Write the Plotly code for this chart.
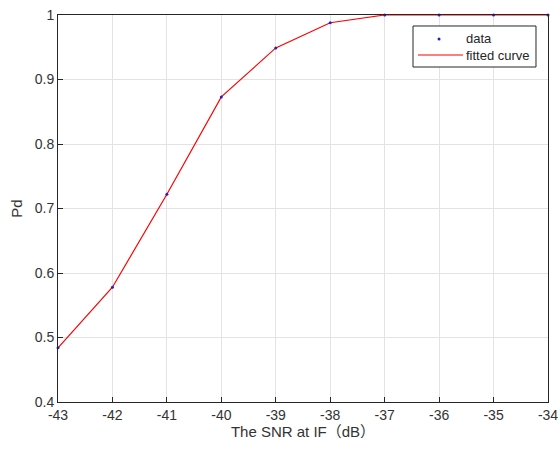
import plotly.graph_objects as go

snr = [-43, -42, -41, -40, -39, -38, -37, -36, -35, -34]
pd_data = [0.484, 0.578, 0.722, 0.873, 0.949, 0.988, 1.0, 1.0, 1.0, 1.0]
x_ticks = [-43, -42, -41, -40, -39, -38, -37, -36, -35, -34]
x_tick_text = ["-43", "-42", "-41", "-40", "-39", "-38", "-37", "-36", "-35", "-34"]
y_ticks = [0.4, 0.5, 0.6, 0.7, 0.8, 0.9, 1.0]
y_tick_text = ["0.4", "0.5", "0.6", "0.7", "0.8", "0.9", "1"]
legend_labels = ["data", "fitted curve"]

FONT = "Liberation Sans, Arial, Noto Sans CJK SC"
DOT_COLOR = "#1f1fcc"
LINE_COLOR = "#ff0000"

fig = go.Figure()
fig.add_trace(go.Scatter(x=snr, y=pd_data, mode="lines", name=legend_labels[1],
                         line=dict(color=LINE_COLOR, width=1.2), cliponaxis=False))
fig.add_trace(go.Scatter(x=snr, y=pd_data, mode="markers", name=legend_labels[0],
                         marker=dict(color=DOT_COLOR, size=3), cliponaxis=False))

axis_common = dict(showline=True, linecolor="#262626", linewidth=1, mirror=True,
                   ticks="inside", ticklen=5, tickcolor="#262626", automargin=False,
                   showgrid=True, gridcolor="#e3e3e3", gridwidth=1, zeroline=False,
                   tickfont=dict(family=FONT, size=14, color="#333333"))

# manual legend (MATLAB style box)
box = dict(x0=0.7245, x1=0.9755, y0=0.8656, y1=0.9716)
row_y = [0.938, 0.8966]
shapes = [
    dict(type="rect", xref="paper", yref="paper", **box,
         line=dict(color="#262626", width=1), fillcolor="white", layer="above"),
    dict(type="line", xref="paper", yref="paper", x0=0.7347, x1=0.8265,
         y0=row_y[1], y1=row_y[1], line=dict(color=LINE_COLOR, width=1.2), layer="above"),
    dict(type="circle", xref="paper", yref="paper", xsizemode="pixel", ysizemode="pixel",
         xanchor=0.7776, yanchor=row_y[0], x0=-1.5, x1=1.5, y0=-1.5, y1=1.5,
         fillcolor=DOT_COLOR, line=dict(width=0), layer="above"),
]
annotations = [
    dict(xref="paper", yref="paper", x=0.829, y=yy, xanchor="left", yanchor="middle",
         text=t, showarrow=False, font=dict(family=FONT, size=13, color="#262626"))
    for t, yy in zip(legend_labels, row_y)
]

fig.update_layout(
    width=559, height=450,
    margin=dict(l=58, r=11, t=15, b=48),
    paper_bgcolor="white", plot_bgcolor="white",
    font=dict(family=FONT, size=14, color="#333333"),
    xaxis=dict(range=[-43, -34], tickvals=x_ticks, ticktext=x_tick_text,
               title=dict(text="The SNR at IF（dB）", standoff=4,
                          font=dict(size=15, color="#333333")),
               **axis_common),
    yaxis=dict(range=[0.4, 1.0], tickvals=y_ticks, ticktext=y_tick_text,
               title=dict(text="Pd", standoff=8, font=dict(size=15, color="#333333")),
               **axis_common),
    shapes=shapes,
    annotations=annotations,
    showlegend=False,
)

fig.write_html("out.html")
